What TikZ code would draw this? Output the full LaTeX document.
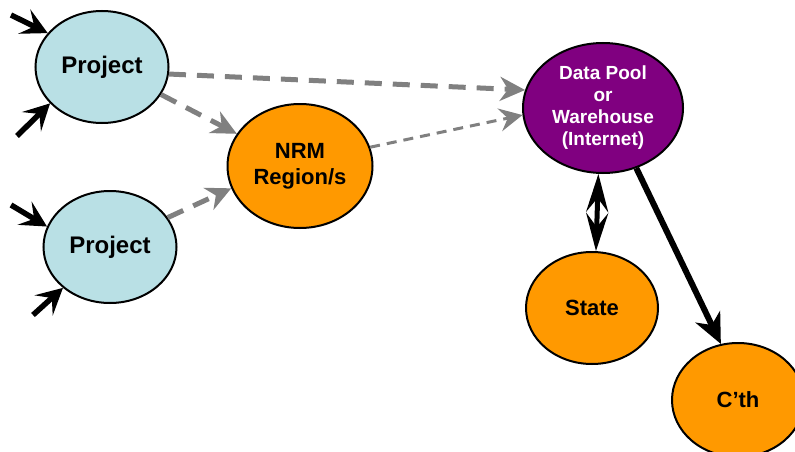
\documentclass[tikz,border=0pt]{standalone}
\usepackage{fontspec}
\setmainfont{Liberation Sans}
\usetikzlibrary{shapes.geometric,arrows.meta}
\definecolor{projblue}{RGB}{185,224,229}
\definecolor{nrmorange}{RGB}{255,153,0}
\definecolor{poolpurple}{RGB}{128,0,128}
\definecolor{linkgray}{RGB}{128,128,128}
\tikzset{
  blob/.style={ellipse, draw=black, line width=2pt, inner sep=0pt, align=center,
               font=\bfseries\fontsize{22}{26}\selectfont},
  projblob/.style={blob, fill=projblue, minimum width=133pt, minimum height=112pt,
               font=\bfseries\fontsize{24}{28}\selectfont},
  orangeblob/.style={blob, fill=nrmorange},
  poolblob/.style={blob, fill=poolpurple, text=white,
               font=\bfseries\fontsize{19}{22}\selectfont},
  feed/.style={line width=5.5pt, -{Stealth[length=26pt,width=27pt,inset=11pt]}},
  grayflow/.style={linkgray, line width=5pt, dash pattern=on 17pt off 11pt,
               -{Stealth[length=25pt,width=24pt,inset=8pt]}},
  thinflow/.style={linkgray, line width=3pt, dash pattern=on 10pt off 7pt,
               -{Stealth[length=23pt,width=23pt,inset=8pt]}},
  twoway/.style={line width=5pt,
               {Stealth[length=38pt,width=22pt,inset=14pt]}-{Stealth[length=38pt,width=22pt,inset=14pt]}},
  oneway/.style={line width=6pt, -{Stealth[length=30pt,width=27pt,inset=9pt]}}
}
\begin{document}
\begin{tikzpicture}[x=1pt,y=-1pt]
\useasboundingbox (0,0) rectangle (795,452);

% nodes
\node[projblob] (p1) at (102,67) {Project};
\node[projblob] (p2) at (110,247) {Project};
\node[orangeblob, minimum width=145pt, minimum height=124pt] (nrm) at (300,166) {NRM\\Region/s};
\node[poolblob, minimum width=160pt, minimum height=130pt] (pool) at (603,108) {Data Pool\\or\\Warehouse\\(Internet)};
\node[orangeblob, minimum width=132pt, minimum height=112pt] (state) at (592,308) {State};
\node[orangeblob, minimum width=132pt, minimum height=114pt] (cth) at (738,400) {C’th};

% loose ends of the incoming arrows
\coordinate (in1a) at (11,15);
\coordinate (in1b) at (17,136);
\coordinate (in2a) at (11,205);
\coordinate (in2b) at (33,315);

\draw[feed] (in1a) -- (p1.148);
\draw[feed] (in1b) -- (p1.215);
\draw[feed] (in2a) -- (p2.162);
\draw[feed] (in2b) -- (p2.221);

% flows towards the data pool
\draw[grayflow] (p1.-6) -- (pool.167);
\draw[grayflow] (p1.-25) -- (nrm.153);
\draw[grayflow] (p2.27) -- (nrm.198);
\draw[thinflow] (nrm.15) -- (pool.185);

% exchange with State and C'th
\draw[twoway] (pool.266) -- (state.86);
\draw[oneway] (pool.299) -- (cth.107);
\end{tikzpicture}
\end{document}
